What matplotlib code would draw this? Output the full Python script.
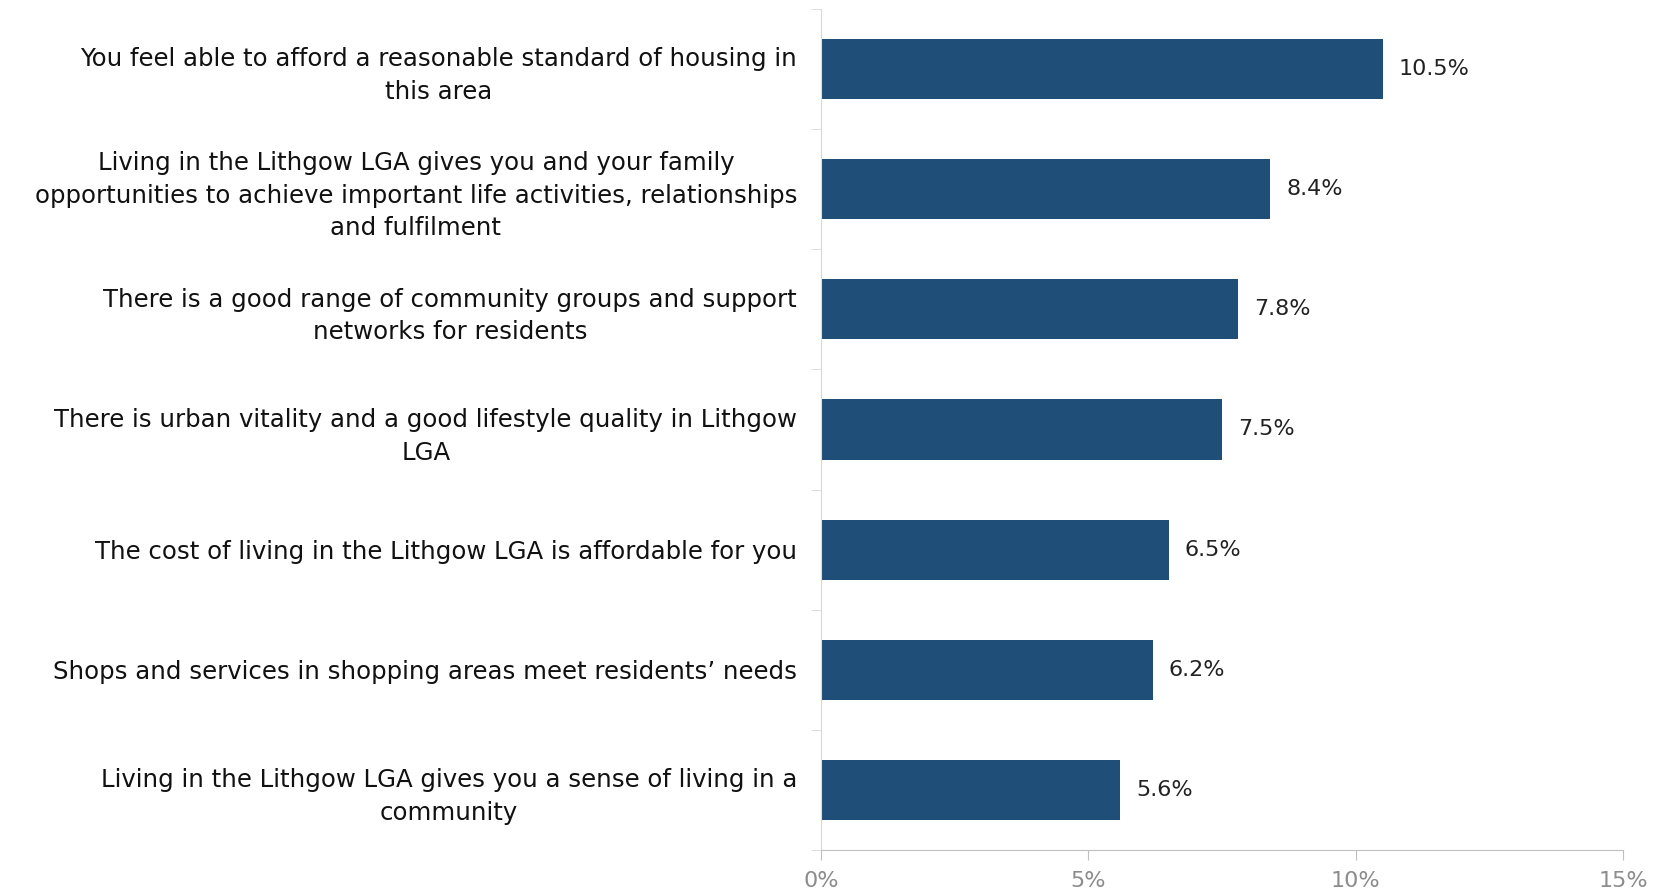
import matplotlib.pyplot as plt
from matplotlib.ticker import FixedLocator, FuncFormatter

# survey statements (top to bottom) and share of respondents
statements = [
    "You feel able to afford a reasonable standard of housing in\nthis area",
    "Living in the Lithgow LGA gives you and your family\nopportunities to achieve important life activities, relationships\nand fulfilment",
    "There is a good range of community groups and support\nnetworks for residents",
    "There is urban vitality and a good lifestyle quality in Lithgow\nLGA",
    "The cost of living in the Lithgow LGA is affordable for you",
    "Shops and services in shopping areas meet residents\u2019 needs",
    "Living in the Lithgow LGA gives you a sense of living in a\ncommunity",
]
shares = [10.5, 8.4, 7.8, 7.5, 6.5, 6.2, 5.6]
x_ticks = [0, 5, 10, 15]

plt.rcParams['font.family'] = ['DejaVu Sans']

fig = plt.figure(figsize=(16.65, 8.91), dpi=100)
ax = fig.add_axes([0.493, 0.046, 0.482, 0.944])

ypos = list(range(len(statements)))[::-1]
bars = ax.barh(ypos, shares, height=0.5, color='#1F4E79')

for y, v in zip(ypos, shares):
    ax.text(v + 0.3, y, f"{v:.1f}%", va='center', ha='left', fontsize=16, color='#222222')

ax.set_xlim(0, 15)
ax.set_ylim(-0.5, len(statements) - 0.5)
ax.set_xticks(x_ticks)
ax.xaxis.set_major_formatter(FuncFormatter(lambda v, p: f"{v:.0f}%"))
ax.tick_params(axis='x', length=7, color='#bfbfbf', labelcolor='#8c8c8c', labelsize=16, pad=8)

ax.set_yticks(ypos)
ax.set_yticklabels(statements, fontsize=17.6, color='#111111',
                   multialignment='center', linespacing=1.45)
ax.tick_params(axis='y', which='major', length=0, pad=17)
ax.yaxis.set_minor_locator(FixedLocator([i - 0.5 for i in range(len(statements) + 1)]))
ax.tick_params(axis='y', which='minor', length=7, color='#d9d9d9')

for side in ['top', 'right']:
    ax.spines[side].set_visible(False)
ax.spines['left'].set_color('#d9d9d9')
ax.spines['bottom'].set_color('#bfbfbf')

fig.savefig('out.png', dpi=100)
